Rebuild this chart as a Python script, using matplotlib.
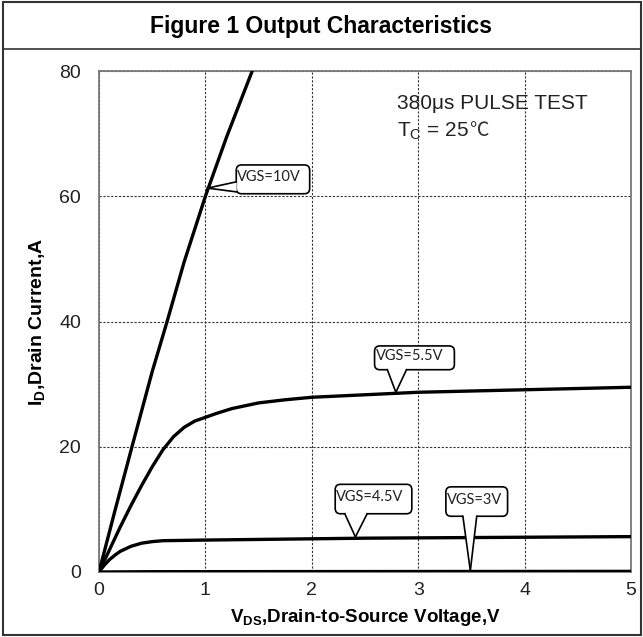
import matplotlib
matplotlib.use("Agg")
import matplotlib.pyplot as plt
from matplotlib.patches import FancyBboxPatch, Polygon, Rectangle
from matplotlib.lines import Line2D

# ---- data ----
vds_10 = [0, 0.15, 0.31, 0.5, 0.64, 0.8, 1.0, 1.2, 1.44]
id_10 = [0, 9.8, 20, 32, 40, 49.5, 60, 69.5, 80]

vds_55 = [0, 0.1, 0.2, 0.3, 0.4, 0.5, 0.6, 0.7, 0.8, 0.9, 1.0, 1.1, 1.25, 1.5, 1.75, 2.0, 2.5, 3.0, 3.5, 4.0, 4.5, 5.0]
id_55 = [0, 3.6, 7.2, 10.6, 13.8, 16.8, 19.5, 21.6, 23.1, 24.1, 24.7, 25.3, 26.1, 27.0, 27.5, 27.9, 28.3, 28.7, 28.9, 29.1, 29.3, 29.5]

vds_45 = [0, 0.05, 0.1, 0.15, 0.2, 0.3, 0.4, 0.5, 0.6, 0.8, 1.0, 1.5, 2.0, 2.5, 3.0, 3.5, 4.0, 4.5, 5.0]
id_45 = [0, 1.1, 2.0, 2.7, 3.3, 4.1, 4.6, 4.85, 5.0, 5.05, 5.1, 5.2, 5.3, 5.4, 5.45, 5.5, 5.55, 5.6, 5.65]

vds_3 = [0, 0.5, 5.0]
id_3 = [0, 0.05, 0.1]

x_ticks = [0, 1, 2, 3, 4, 5]
y_ticks = [0, 20, 40, 60, 80]

title = "Figure 1 Output Characteristics"
xlabel = r"V$_{\mathregular{DS}}$,Drain-to-Source Voltage,V"
ylabel = r"I$_{\mathregular{D}}$,Drain Current,A"
note1 = "380\u03bcs PULSE TEST"
note2 = r"T$_{\mathregular{C}}$ = 25"
note2_unit = "\u2103"

# callouts: label, box (x0, x1, y0, y1), pointer base (a, b) along edge, tip (x, y), side
callouts = [
    ("VGS=10V", (1.29, 1.98, 60.4, 65.0), (60.7, 62.3), (1.02, 61.3), "left"),
    ("VGS=5.5V", (2.59, 3.34, 32.3, 36.1), (2.71, 2.89), (2.79, 28.7), "bottom"),
    ("VGS=4.5V", (2.22, 2.94, 9.3, 14.0), (2.31, 2.52), (2.41, 5.6), "bottom"),
    ("VGS=3V", (3.26, 3.84, 8.9, 13.6), (3.42, 3.55), (3.49, 0.2), "bottom"),
]

plt.rcParams['font.family'] = ['Liberation Sans', 'DejaVu Sans']
plt.rcParams['mathtext.fontset'] = 'custom'
plt.rcParams['mathtext.rm'] = 'Liberation Sans'
W, H = 643, 637
fig = plt.figure(figsize=(W / 100, H / 100), dpi=100)

# outer frame and title separator
fig.add_artist(Rectangle((3 / W, 2 / H), 638 / W, 633 / H, transform=fig.transFigure,
                         fill=False, edgecolor="#333333", lw=1.5))
fig.add_artist(Line2D([3 / W, 641 / W], [1 - 49 / H, 1 - 49 / H], transform=fig.transFigure,
                      color="#333333", lw=1.2))
fig.text(0.5, 1 - 27 / H, title, ha="center", va="center", fontsize=16.5, fontweight="bold")

ax = fig.add_axes([99 / W, 1 - 572 / H, 532 / W, 501 / H])
ax.set_xlim(0, 5)
ax.set_ylim(0, 80)
ax.set_xticks(x_ticks)
ax.set_yticks(y_ticks)
ax.tick_params(length=0, labelsize=14, colors="#222222", pad=7)
ax.tick_params(axis="y", pad=13)
ax.grid(True, color="#333333", linestyle=(0, (2, 1.5)), linewidth=0.8)
for s in ax.spines.values():
    s.set_color("#777777")
    s.set_linewidth(1.3)

lw = 2.4
for xs, ys in [(vds_10, id_10), (vds_55, id_55), (vds_45, id_45), (vds_3, id_3)]:
    ax.plot(xs, ys, color="black", lw=lw, solid_capstyle="round", zorder=3, clip_on=True)

ax.set_xlabel(xlabel, fontsize=13.5, fontweight="bold", labelpad=6)
ax.set_ylabel(ylabel, fontsize=14, fontweight="bold", labelpad=8)

ax.text(2.80, 73.9, note1, fontsize=15, color="#222222", va="baseline")
t2 = ax.text(2.80, 69.6, note2, fontsize=15, color="#222222", va="baseline")
fig.canvas.draw()
bb = t2.get_window_extent()
x_end = ax.transData.inverted().transform((bb.x1, bb.y0))[0]
ax.text(x_end, 69.6, note2_unit, fontsize=14, color="#333333", va="baseline",
        family=["Noto Sans CJK SC", "DejaVu Sans"], fontweight="light")

asp = (501 / 80) / (532 / 5)  # data-y per data-x for equal pixel radii
for label, (x0, x1, y0, y1), (a, b), (tx, ty), side in callouts:
    box = FancyBboxPatch((x0, y0), x1 - x0, y1 - y0,
                         boxstyle="round,pad=0,rounding_size=0.05",
                         mutation_aspect=1 / asp,
                         facecolor="white", edgecolor="black", lw=1.2, zorder=5)
    ax.add_patch(box)
    if side == "bottom":
        inset = 0.25
        pts = [(a, y0 + inset), (tx, ty), (b, y0 + inset)]
        e1 = [(a, y0), (tx, ty)]
        e2 = [(b, y0), (tx, ty)]
    else:
        inset = 0.004
        pts = [(x0 + inset, a), (tx, ty), (x0 + inset, b)]
        e1 = [(x0, a), (tx, ty)]
        e2 = [(x0, b), (tx, ty)]
    ax.add_patch(Polygon(pts, closed=True, facecolor="white", edgecolor="none", zorder=6))
    for e in (e1, e2):
        ax.plot([e[0][0], e[1][0]], [e[0][1], e[1][1]], color="black", lw=1.2, zorder=7)
    ax.text(x0 + 0.01, (y0 + y1) / 2 + 0.3, label, fontsize=10.5, family=["Lato", "DejaVu Sans"],
            ha="left", va="center", color="#222222", zorder=8)

fig.savefig("out.png", dpi=100)
